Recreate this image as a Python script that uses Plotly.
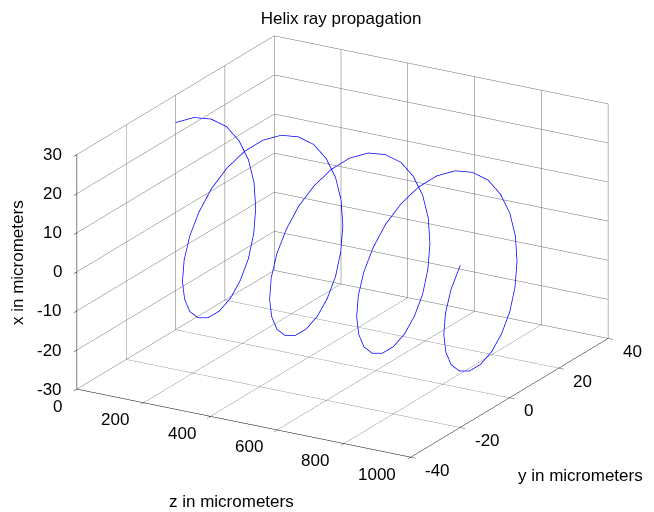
import plotly.graph_objects as go

# Ray path samples (micrometers)
z_pos = [0.0, 10.9, 21.7, 32.6, 43.5, 54.3, 65.2, 76.1, 87.0, 97.8, 108.7, 119.6,
         130.4, 141.3, 152.2, 163.0, 173.9, 184.8, 195.7, 206.5, 217.4, 228.3, 239.1, 250.0,
         260.9, 271.7, 282.6, 293.5, 304.3, 315.2, 326.1, 337.0, 347.8, 358.7, 369.6, 380.4,
         391.3, 402.2, 413.0, 423.9, 434.8, 445.7, 456.5, 467.4, 478.3, 489.1, 500.0, 510.9,
         521.7, 532.6, 543.5, 554.3, 565.2, 576.1, 587.0, 597.8, 608.7, 619.6, 630.4, 641.3,
         652.2, 663.0, 673.9, 684.8, 695.7, 706.5, 717.4, 728.3, 739.1, 750.0, 760.9, 771.7,
         782.6, 793.5, 804.3, 815.2, 826.1, 837.0, 847.8, 858.7, 869.6, 880.4, 891.3, 902.2,
         913.0, 923.9, 934.8, 945.7, 956.5, 967.4, 978.3, 989.1, 1000.0]

x_pos = [23.0, 22.2, 19.9, 16.3, 11.5, 6.0, 0.0, -6.0, -11.5, -16.3, -19.9, -22.2,
         -23.0, -22.2, -19.9, -16.3, -11.5, -6.0, 0.0, 6.0, 11.5, 16.3, 19.9, 22.2,
         23.0, 22.2, 19.9, 16.3, 11.5, 6.0, 0.0, -6.0, -11.5, -16.3, -19.9, -22.2,
         -23.0, -22.2, -19.9, -16.3, -11.5, -6.0, 0.0, 6.0, 11.5, 16.3, 19.9, 22.2,
         23.0, 22.2, 19.9, 16.3, 11.5, 6.0, 0.0, -6.0, -11.5, -16.3, -19.9, -22.2,
         -23.0, -22.2, -19.9, -16.3, -11.5, -6.0, 0.0, 6.0, 11.5, 16.3, 19.9, 22.2,
         23.0, 22.2, 19.9, 16.3, 11.5, 6.0, 0.0, -6.0, -11.5, -16.3, -19.9, -22.2,
         -23.0, -22.2, -19.9, -16.3, -11.5, -6.0, 0.0, 6.0, 11.5]

y_pos = [0.0, 6.0, 11.5, 16.3, 19.9, 22.2, 23.0, 22.2, 19.9, 16.3, 11.5, 6.0,
         0.0, -6.0, -11.5, -16.3, -19.9, -22.2, -23.0, -22.2, -19.9, -16.3, -11.5, -6.0,
         0.0, 6.0, 11.5, 16.3, 19.9, 22.2, 23.0, 22.2, 19.9, 16.3, 11.5, 6.0,
         0.0, -6.0, -11.5, -16.3, -19.9, -22.2, -23.0, -22.2, -19.9, -16.3, -11.5, -6.0,
         0.0, 6.0, 11.5, 16.3, 19.9, 22.2, 23.0, 22.2, 19.9, 16.3, 11.5, 6.0,
         0.0, -6.0, -11.5, -16.3, -19.9, -22.2, -23.0, -22.2, -19.9, -16.3, -11.5, -6.0,
         0.0, 6.0, 11.5, 16.3, 19.9, 22.2, 23.0, 22.2, 19.9, 16.3, 11.5, 6.0,
         0.0, -6.0, -11.5, -16.3, -19.9, -22.2, -23.0, -22.2, -19.9]

z_ticks = [0, 200, 400, 600, 800, 1000]
y_ticks = [-40, -20, 0, 20, 40]
x_ticks = [-30, -20, -10, 0, 10, 20, 30]

Z_RANGE = [0, 1000]
Y_RANGE = [-40, 40]
X_RANGE = [-30, 30]

FONT = "Arial, Liberation Sans, sans-serif"
FS = 17
tfont = dict(family=FONT, size=FS, color="black")

fig = go.Figure()
fig.add_trace(go.Scatter3d(x=z_pos, y=y_pos, z=x_pos, mode="lines",
                           line=dict(color="#0000FF", width=1.5),
                           showlegend=False, hoverinfo="skip"))

def axis(rng, ticks):
    return dict(range=rng, tickvals=ticks, showticklabels=False,
                title=dict(text=""), showbackground=False, showgrid=True,
                gridcolor="#6a6a6a", gridwidth=1, showline=True, linecolor="black",
                linewidth=1, ticks="outside", ticklen=6, tickcolor="black",
                zeroline=False, showspikes=False, autorange=False)

# tick labels placed as scene annotations at the tick positions
scene_ann = []
for t in z_ticks:
    scene_ann.append(dict(x=t, y=Y_RANGE[0], z=X_RANGE[0], text=str(t), showarrow=False,
                          xanchor="right", yanchor="middle", xshift=-13, yshift=-17,
                          font=tfont))
for t in y_ticks:
    scene_ann.append(dict(x=Z_RANGE[1], y=t, z=X_RANGE[0], text=str(t), showarrow=False,
                          xanchor="left", yanchor="middle", xshift=12, yshift=-13,
                          font=tfont))
for t in x_ticks:
    scene_ann.append(dict(x=Z_RANGE[0], y=Y_RANGE[0], z=t, text=str(t), showarrow=False,
                          xanchor="right", yanchor="middle", xshift=-13, yshift=0,
                          font=tfont))

fig.update_layout(
    width=654, height=512,
    paper_bgcolor="white", plot_bgcolor="white",
    margin=dict(l=0, r=0, t=0, b=0),
    title=dict(text="Helix ray propagation", x=0.5092, xanchor="center",
               y=0.9803, yanchor="middle", font=tfont),
    scene=dict(
        domain=dict(x=[0.0359, 0.9885], y=[0.0684, 1.0]),
        xaxis=axis(Z_RANGE, z_ticks),
        yaxis=axis(Y_RANGE, y_ticks),
        zaxis=axis(X_RANGE, x_ticks),
        aspectmode="manual", aspectratio=dict(x=1.62, y=1.645, z=1.05),
        camera=dict(eye=dict(x=0.4712 * 2, y=-0.8096 * 2, z=0.3502 * 2),
                    up=dict(x=0, y=0, z=1), center=dict(x=0, y=0, z=0),
                    projection=dict(type="orthographic")),
        annotations=scene_ann,
    ),
    annotations=[
        dict(text="x in micrometers", x=0.0154, y=0.502, xref="paper", yref="paper",
             xanchor="center", yanchor="middle",
             showarrow=False, textangle=-90, font=tfont),
        dict(text="z in micrometers", x=0.3425, y=0.0369, xref="paper", yref="paper",
             xanchor="center", yanchor="middle", showarrow=False, font=tfont),
        dict(text="y in micrometers", x=0.8754, y=0.0863, xref="paper", yref="paper",
             xanchor="center", yanchor="middle", showarrow=False, font=tfont),
    ],
)

fig.write_html("out.html")
